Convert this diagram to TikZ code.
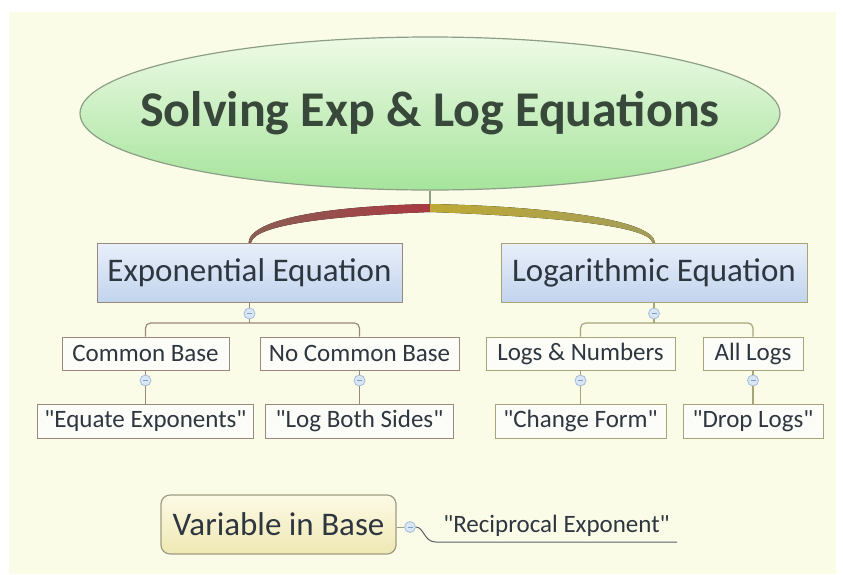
\documentclass[tikz,border=0pt]{standalone}
\usepackage{fontspec}
\setmainfont{Carlito}
\usetikzlibrary{shapes.geometric,calc}
\definecolor{cream}{HTML}{FBFCE8}
\definecolor{rootTop}{HTML}{EEFAE6}
\definecolor{rootBot}{HTML}{A6E49C}
\definecolor{rootLine}{HTML}{8C9E86}
\definecolor{titleC}{HTML}{38483A}
\definecolor{txt}{HTML}{2E3640}
\definecolor{blueTop}{HTML}{E8EFFA}
\definecolor{blueBot}{HTML}{C2D4EE}
\definecolor{lineE}{HTML}{9A887C}
\definecolor{lineL}{HTML}{A8A47A}
\definecolor{subFill}{HTML}{FCFCF8}
\definecolor{knobFill}{HTML}{D8E6F5}
\definecolor{knobLine}{HTML}{A6BCD8}
\definecolor{knobMinus}{HTML}{7F9CC4}
\definecolor{yelTop}{HTML}{FCFAE6}
\definecolor{yelBot}{HTML}{EFE8B2}
\definecolor{yelLine}{HTML}{9E9C82}
\definecolor{redA}{HTML}{A83A42}
\definecolor{redB}{HTML}{8C5E54}
\definecolor{oliveA}{HTML}{BDAA34}
\definecolor{oliveB}{HTML}{A49C5A}
\newcommand{\qq}{\textquotedbl}
\tikzset{
  rootnode/.style={ellipse, draw=rootLine, line width=1.2pt, top color=rootTop, bottom color=rootBot,
    minimum width=700pt, minimum height=153pt, inner xsep=-60pt, inner ysep=0pt,
    font=\fontsize{50}{56}\selectfont\bfseries, text=titleC},
  mainnode/.style={rectangle, line width=1pt, top color=blueTop, bottom color=blueBot,
    minimum height=59pt, inner sep=0pt, font=\fontsize{33}{38}\selectfont, text=txt},
  subnode/.style={rectangle, line width=1pt, fill=subFill, minimum height=33pt, inner sep=0pt,
    font=\fontsize{25}{29}\selectfont, text=txt},
  knob/.style={circle, minimum size=11pt, inner sep=0pt, draw=knobLine, line width=0.8pt, fill=knobFill,
    path picture={\draw[knobMinus, line width=0.8pt] ([xshift=-2.5pt]path picture bounding box.center) -- ([xshift=2.5pt]path picture bounding box.center);}},
  connE/.style={draw=lineE, line width=1.2pt},
  connL/.style={draw=lineL, line width=1.2pt},
  varnode/.style={rectangle, rounded corners=9pt, draw=yelLine, line width=1.2pt, top color=yelTop, bottom color=yelBot,
    minimum width=235pt, minimum height=59pt, inner sep=0pt, font=\fontsize{33}{38}\selectfont, text=txt},
  plaintext/.style={inner sep=0pt, font=\fontsize{25}{29}\selectfont, text=txt}
}
\begin{document}
\begin{tikzpicture}[x=1pt,y=-1pt]
\useasboundingbox (0,0) rectangle (843,574);
\fill[white] (0,0) rectangle (843,574);
\fill[cream] (9,12) rectangle (836,574);

% root
\node[rootnode] (root) at (430,113.5) {Solving Exp \& Log Equations};
\coordinate (j) at (430,208);

% main nodes
\node[mainnode, draw=lineE, minimum width=305pt] (exp) at (249.5,272.5) {Exponential Equation};
\node[mainnode, draw=lineL, minimum width=306pt] (log) at (654,272.5) {Logarithmic Equation};

% root connectors
\draw[rootLine, line width=1.2pt] (root.south) -- (j);
\fill[left color=redB, right color=redA]
  ($(j)+(0,-4)$) .. controls ($(j)+(-100,-2)$) and ($(exp.north)+(1,-24)$) .. ($(exp.north)+(-1,0)$)
  -- ($(exp.north)+(1.5,0)$) .. controls ($(exp.north)+(6,-18)$) and ($(j)+(-100,8)$) .. ($(j)+(0,4)$) -- cycle;
\fill[left color=oliveA, right color=oliveB]
  ($(j)+(0,-4)$) .. controls ($(j)+(110,-2)$) and ($(log.north)+(-1,-24)$) .. ($(log.north)+(1,0)$)
  -- ($(log.north)+(-1.5,0)$) .. controls ($(log.north)+(-6,-18)$) and ($(j)+(110,8)$) .. ($(j)+(0,4)$) -- cycle;

% knobs under main nodes
\node[knob] (k1) at ($(exp.south)+(0,11)$) {};
\node[knob] (k2) at ($(log.south)+(0,11)$) {};
\coordinate (b1) at (249.5,323);
\coordinate (b2) at (654,323);

% level 2
\node[subnode, draw=lineE, minimum width=167pt] (cb) at (145.5,353.5) {Common Base};
\node[subnode, draw=lineE, minimum width=199pt] (ncb) at (359.5,353.5) {No Common Base};
\node[subnode, draw=lineL, minimum width=189pt] (ln) at (580.5,353.5) {Logs \& Numbers};
\node[subnode, draw=lineL, minimum width=100pt] (al) at (753,353.5) {All Logs};

\draw[connE] (exp) -- (k1) -- (b1);
\draw[connE, rounded corners=5pt] (cb.north) |- (b1) -| (ncb.north);
\draw[connL] (log) -- (k2) -- (b2);
\draw[connL, rounded corners=5pt] (ln.north) |- (b2) -| (al.north);

% knobs under level 2
\node[knob] (k3) at ($(cb.south)+(0,10)$) {};
\node[knob] (k4) at ($(ncb.south)+(0,10)$) {};
\node[knob] (k5) at ($(ln.south)+(0,10)$) {};
\node[knob] (k6) at ($(al.south)+(0,10)$) {};

% level 3
\node[subnode, draw=lineE, minimum width=216pt, minimum height=34pt] (eq) at (145.5,421) {\qq Equate Exponents\qq};
\node[subnode, draw=lineE, minimum width=188pt, minimum height=34pt] (lbs) at (359.5,421) {\qq Log Both Sides\qq};
\node[subnode, draw=lineL, minimum width=171pt, minimum height=34pt] (cf) at (580.5,421) {\qq Change Form\qq};
\node[subnode, draw=lineL, minimum width=140pt, minimum height=34pt] (dl) at (753,421) {\qq Drop Logs\qq};

\draw[connE] (cb) -- (k3) -- (eq);
\draw[connE] (ncb) -- (k4) -- (lbs);
\draw[connL] (ln) -- (k5) -- (cf);
\draw[connL] (al) -- (k6) -- (dl);

% bottom floating topic
\node[varnode] (vib) at (278.5,524.5) {Variable in Base};
\node[knob] (k7) at (410,527) {};
\node[plaintext, anchor=base] (rec) at (556.5,532) {\qq Reciprocal Exponent\qq};
\coordinate (ul) at (677,542);
\draw[draw=yelLine, line width=1pt] (vib.east |- k7) -- (k7);
\draw[draw=txt!80, line width=1pt] (k7.east) .. controls ($(k7.east)+(8,0)$) and ($(k7.east)+(8,15)$) .. ($(k7.east)+(20,15)$) -- (ul);
\end{tikzpicture}
\end{document}
